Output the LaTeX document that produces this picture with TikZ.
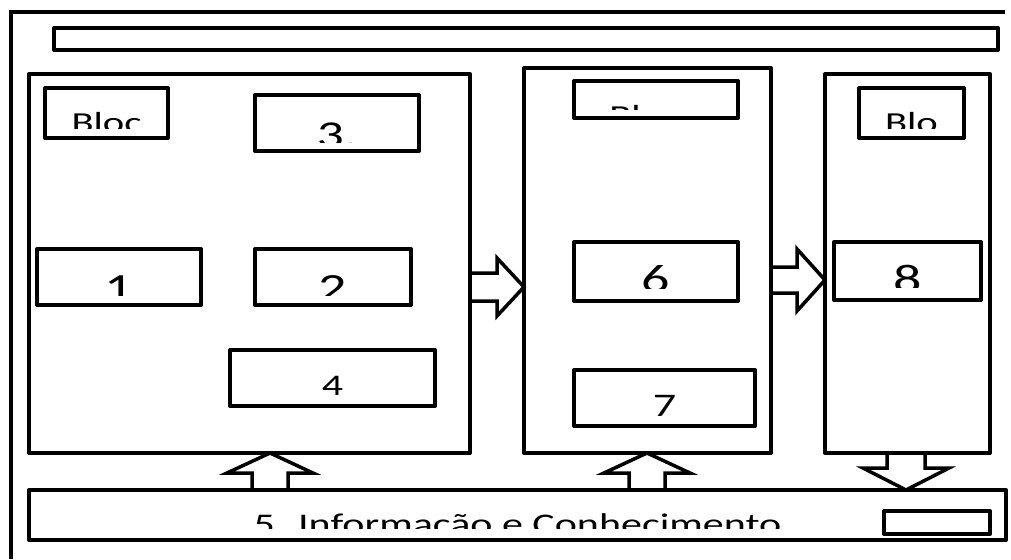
\documentclass[tikz,border=0pt]{standalone}
\usepackage{fontspec}
\setmainfont{Carlito}
\usepackage{graphicx}
\usetikzlibrary{calc,fit}

% text that is cut off a little above the box bottom
\newcommand{\cuttext}[6][]{%
  \begin{scope}
    \clip ([yshift=#5pt]#2.south west) rectangle (#2.north east);
    \node[lbl,#1] at ([yshift=-#4pt]#2.north) {\fontsize{#3}{#3}\selectfont\scalebox{1.4}[1]{#6}};
  \end{scope}}

\newcommand{\fatarrow}[5]{%
  \coordinate (hb) at ($(#2)!#5pt!(#1)$);
  \draw[fatarr] ($(#1)!#3pt!90:(#2)$) -- ($(hb)!#3pt!90:(#2)$) -- ($(hb)!#4pt!90:(#2)$)
    -- (#2) -- ($(hb)!#4pt!-90:(#2)$) -- ($(hb)!#3pt!-90:(#2)$) -- ($(#1)!#3pt!-90:(#2)$);}

\begin{document}
\begin{tikzpicture}[
  x=1pt,y=-1pt,
  box/.style={draw,line width=4pt,line join=round,inner sep=0pt,outer sep=0pt},
  lbl/.style={anchor=base,inner sep=0pt},
  fatarr/.style={draw,line width=3.5pt,line join=miter}
]
  \useasboundingbox (0,0) rectangle (1011,559);
  \draw[line width=4pt] (11,559) -- (11,12) -- (1005,12);

  \node[box,fit={(54,28) (998,50)}] (top) {};
  \node[box,fit={(29,74) (470,453)}] (blkA) {};
  \node[box,fit={(45,88) (168,138)}] (blocA) {};
  \node[box,fit={(255,95) (419,151)}] (b3) {};
  \node[box,fit={(37,249) (201,305)}] (b1) {};
  \node[box,fit={(255,249) (411,305)}] (b2) {};
  \node[box,fit={(230,350) (435,406)}] (b4) {};

  \node[box,fit={(524,68) (771,453)}] (blkB) {};
  \node[box,fit={(574,81) (738,118)}] (blocB) {};
  \node[box,fit={(574,242) (738,301)}] (b6) {};
  \node[box,fit={(574,370) (755,426)}] (b7) {};

  \node[box,fit={(825,74) (990,453)}] (blkC) {};
  \node[box,fit={(859,88) (964,138)}] (blocC) {};
  \node[box,fit={(834,242) (981,300)}] (b8) {};

  \node[box,fit={(29,490) (1006,540)}] (bar5) {};
  \node[box,fit={(884,511) (990,534)}] (small) {};

  \cuttext{blocA}{29}{44}{10}{Bloc}
  \cuttext[xshift=-31pt]{blocB}{29}{44}{8}{Bl}
  \cuttext{blocC}{29}{44}{10}{Blo}
  \cuttext{b3}{38}{52}{9}{3.}
  \cuttext{b1}{40}{52}{10}{1}
  \cuttext{b2}{40}{52}{10}{2}
  \cuttext{b4}{30}{45}{10}{4}
  \cuttext{b6}{40}{50}{13}{6}
  \cuttext{b7}{33}{46}{10}{7}
  \cuttext{b8}{40}{50}{13}{8}
  \cuttext{bar5}{30}{44}{12}{5. Informação e Conhecimento}

  \coordinate (rAs) at (blkA.east |- 0,287);
  \coordinate (rAt) at (blkB.west |- 0,287);
  \coordinate (rBs) at (blkB.east |- 0,280);
  \coordinate (rBt) at (blkC.west |- 0,280);
  \coordinate (uAs) at (bar5.north -| 270,0);
  \coordinate (uAt) at (blkA.south -| 270,0);
  \coordinate (uBs) at (bar5.north -| 647,0);
  \coordinate (uBt) at (blkB.south -| 647,0);
  \coordinate (dCs) at (blkC.south -| 906,0);
  \coordinate (dCt) at (bar5.north -| 906,0);
  \foreach \s/\t/\w/\h/\l in {rAs/rAt/14/29/27,rBs/rBt/13/31/28,uAs/uAt/18/43/20,uBs/uBt/18/43/20,dCs/dCt/19/43/22}
    \fatarrow{\s}{\t}{\w}{\h}{\l};
\end{tikzpicture}
\end{document}
